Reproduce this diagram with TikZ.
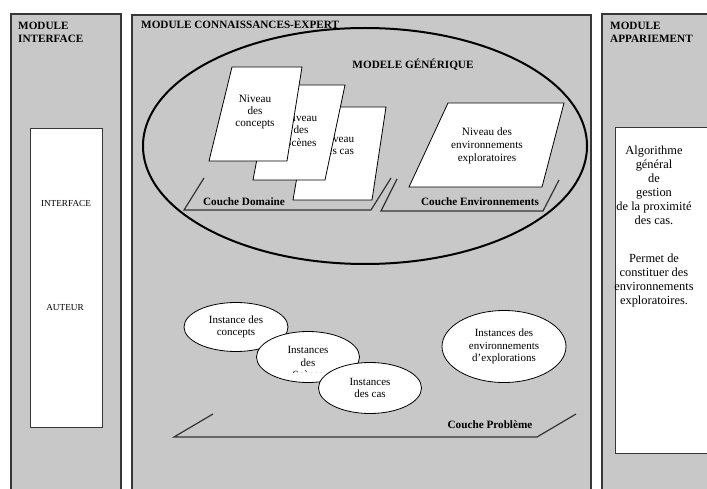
\documentclass[tikz,border=0pt]{standalone}
\usepackage{fontspec}
\setmainfont{Liberation Serif}
\usetikzlibrary{shapes.geometric}
\definecolor{panelgray}{RGB}{200,200,200}
\definecolor{edgegray}{RGB}{55,55,55}
\begin{document}
\begin{tikzpicture}[x=1pt,y=-1pt,
  panel/.style={fill=panelgray,draw=edgegray,line width=1.2pt},
  whitebox/.style={fill=white,draw=edgegray,line width=1pt},
  head/.style={font=\fontsize{11.2}{13}\selectfont\bfseries,align=left,anchor=north west,inner sep=0pt},
  layerlbl/.style={font=\fontsize{11.2}{13}\selectfont\bfseries,inner sep=0pt},
  body/.style={font=\fontsize{11.2}{12.5}\selectfont,align=center,inner sep=0pt},
  small/.style={font=\fontsize{9.2}{11}\selectfont,inner sep=0pt},
  sheet/.style={fill=white,draw=black,line width=0.8pt},
  layer/.style={draw=black!80,line width=1.2pt},
  inst/.style={ellipse,fill=white,draw=black,line width=0.8pt,inner sep=0pt,
    font=\fontsize{11}{12.5}\selectfont,align=center},
]
\useasboundingbox (0,0) rectangle (707,489);
\clip (0,0) rectangle (707,489);
\fill[white] (0,0) rectangle (707,489);

% panels
\draw[panel] (11,14) rectangle (121,500);
\draw[panel] (132,15) rectangle (591,500);
\draw[panel] (602,14) rectangle (720,500);
\node[head] (hleft) at (18,22) {MODULE\\INTERFACE};
\node[head] (hmid) at (141,21) {MODULE CONNAISSANCES-EXPERT};
\node[head] (hright) at (610,21.5) {MODULE\\APPARIEMENT};

% left white box
\draw[whitebox] (30,129) rectangle (102,427);
\node[small] (iface) at (66,203) {INTERFACE};
\node[small] (auteur) at (65,308) {AUTEUR};

% right white box
\draw[whitebox] (615,128) rectangle (720,453);
\node[font=\fontsize{12.4}{14}\selectfont,align=center,inner sep=0pt] (algo) at (654,227)
  {Algorithme\\général\\de\\gestion\\de la proximité\\des cas.\\[24pt]Permet de\\constituer des\\environnements\\exploratoires.};

% generic model
\node[layerlbl] (modgen) at (413,65) {MODELE GÉNÉRIQUE};

% layers (couches)
\draw[layer] (204,178) -- (184,210) -- (371,210) -- (391,178);
\draw[layer] (397,179) -- (381,211) -- (543,211) -- (559,180);
\node[layerlbl] (cdom) at (244,202) {Couche Domaine};
\node[layerlbl] (cenv) at (480,202) {Couche Environnements};

% sheets
\draw[sheet] (309,107) -- (386,107) -- (372,200) -- (293,200) -- cycle;
\node[body,font=\fontsize{11.2}{12}\selectfont] (ncas) at (338,145) {Niveau\\des cas};
\draw[sheet] (271,85) -- (345,85) -- (325,180) -- (253,180) -- cycle;
\node[body,font=\fontsize{11.2}{12.5}\selectfont] (nscenes) at (301,130) {Niveau\\des\\Scènes};
\draw[sheet] (232,67) -- (302,67) -- (287,161) -- (209,161) -- cycle;
\node[body,font=\fontsize{11.2}{12}\selectfont] (nconc) at (255,112) {Niveau\\des\\concepts};

\draw[sheet] (448,103) -- (564,103) -- (542,187) -- (409,187) -- cycle;
\node[body,font=\fontsize{11.2}{13}\selectfont] (nenv) at (487,146) {Niveau des\\environnements\\exploratoires};

% big ellipse
\draw[black,line width=2pt] (365,146) ellipse [x radius=222pt, y radius=118pt];

% problem layer
\draw[layer] (213,414) -- (174,437) -- (537,437) -- (576,414);
\node[layerlbl] (cprob) at (490,425) {Couche Problème};

% instances
\node[inst,minimum width=104pt,minimum height=49pt] (e1) at (236,327) {Instance des\\concepts};
\node[inst,minimum width=103pt,minimum height=51pt] (e2) at (308,357) {};
\begin{scope}
  \clip (250,330) rectangle (370,372.5);
  \node[inst,draw=none,fill=none] (e2t) at (308,362.5) {Instances\\des\\Scènes};
\end{scope}
\node[inst,minimum width=103pt,minimum height=51pt] (e3) at (370,388) {Instances\\des cas};
\node[inst,minimum width=124pt,minimum height=72pt,font=\fontsize{11}{12.7}\selectfont] (e4) at (504,346.5) {Instances des\\environnements\\d'explorations};
\end{tikzpicture}
\end{document}
